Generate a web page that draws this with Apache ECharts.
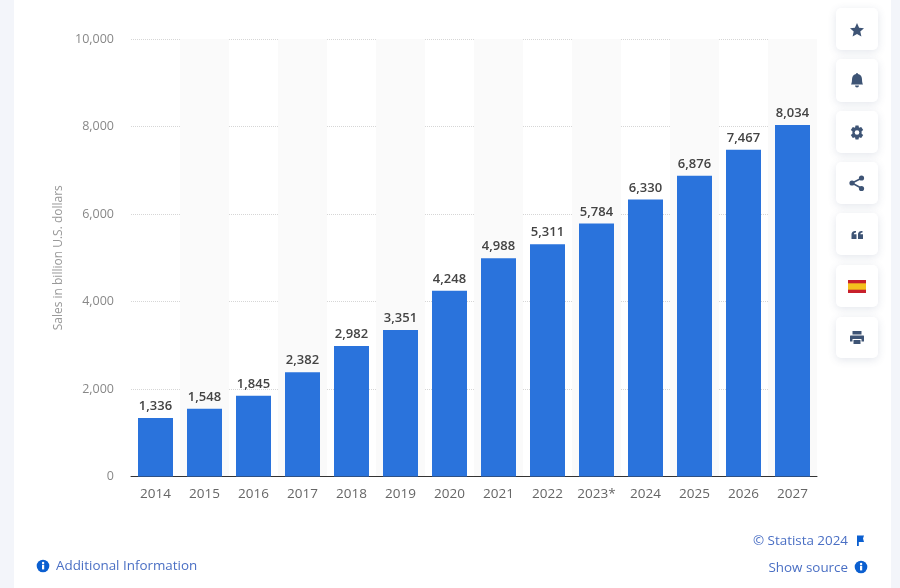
<!DOCTYPE html>
<html>
<head>
<meta charset="utf-8">
<style>
  html, body { margin: 0; padding: 0; background: #f3f5fa; }
  #main { width: 900px; height: 588px; }
</style>
</head>
<body>
<div id="main"></div>
<script src="https://cdn.jsdelivr.net/npm/echarts@6/dist/echarts.min.js"></script>
<script>
var years = ['2014', '2015', '2016', '2017', '2018', '2019', '2020', '2021', '2022', '2023*', '2024', '2025', '2026', '2027'];
var sales = [1336, 1548, 1845, 2382, 2982, 3351, 4248, 4988, 5311, 5784, 6330, 6876, 7467, 8034];
var yTicks = { min: 0, max: 10000, interval: 2000 };
var axisTitle = 'Sales in billion U.S. dollars';

var font = '"Open Sans", sans-serif';
var iconColor = '#3e5475';
var linkColor = '#4a6fc4';
var infoBlue = '#0b5fd0';

var chart = echarts.init(document.getElementById('main'), null, { renderer: 'canvas' });

function button(y, h) {
    return {
        type: 'rect',
        shape: { x: 836, y: y, width: 42, height: h, r: 5 },
        style: { fill: '#fff', shadowBlur: 8, shadowColor: 'rgba(60,80,120,0.14)', shadowOffsetY: 2 },
        z: 2
    };
}

// graphic has no plain path type, so each glyph is registered as a shape
var iconCount = 0;
function icon(x, y, pathData, color) {
    var name = 'icon' + (iconCount++);
    echarts.graphic.registerShape(name, echarts.graphic.extendPath(pathData, {}));
    return { type: name, x: x, y: y, style: { fill: color || iconColor }, z: 3 };
}

function infoIcon(cx, cy) {
    return [
        { type: 'circle', shape: { cx: cx, cy: cy, r: 6.3 }, style: { fill: infoBlue }, z: 3 },
        { type: 'rect', shape: { x: cx - 1, y: cy - 1.2, width: 2.2, height: 4.6 }, style: { fill: '#fff' }, z: 4 },
        { type: 'circle', shape: { cx: cx + 0.1, cy: cy - 3, r: 1.2 }, style: { fill: '#fff' }, z: 4 }
    ];
}

var graphics = [
    { type: 'rect', shape: { x: 14, y: 0, width: 877, height: 588 }, style: { fill: '#fff' }, z: -10, silent: true },
    button(8, 42), button(59, 43), button(111, 42), button(162, 42), button(213, 42), button(265, 42), button(317, 41),
    // star
    icon(857, 30, 'M0-7 L2.1-2.3 L7-1.8 L3.3 1.6 L4.4 6.6 L0 4 L-4.4 6.6 L-3.3 1.6 L-7-1.8 L-2.1-2.3 Z'),
    // bell
    icon(857, 80.5, 'M-1-6.5 A1 1 0 0 1 1-6.5 C4-6 5-3.5 5-1 C5 1.5 5.5 3 6 4 L-6 4 C-5.5 3 -5 1.5 -5-1 C-5-3.5 -4-6 -1-6.5 Z M-2 5 L2 5 A2 2 0 0 1 -2 5 Z'),
    // settings
    icon(857, 132.5, 'M-1.5-7 L1.5-7 L2-4.8 L4.2-5.6 L6.2-2.6 L4.6-1.2 L4.6 1.2 L6.2 2.6 L4.2 5.6 L2 4.8 L1.5 7 L-1.5 7 L-2 4.8 L-4.2 5.6 L-6.2 2.6 L-4.6 1.2 L-4.6-1.2 L-6.2-2.6 L-4.2-5.6 L-2-4.8 Z'),
    { type: 'circle', shape: { cx: 857, cy: 132.5, r: 2.3 }, style: { fill: '#fff' }, z: 4 },
    // share
    { type: 'polyline', shape: { points: [[862, 178], [852, 183], [862, 188.5]] }, style: { fill: 'none', stroke: iconColor, lineWidth: 1.6 }, z: 3 },
    { type: 'circle', shape: { cx: 861.5, cy: 178, r: 2.6 }, style: { fill: iconColor }, z: 3 },
    { type: 'circle', shape: { cx: 852, cy: 183, r: 2.6 }, style: { fill: iconColor }, z: 3 },
    { type: 'circle', shape: { cx: 861.5, cy: 188.5, r: 2.6 }, style: { fill: iconColor }, z: 3 },
    // quote
    icon(851.5, 231, 'M0 4 C0 1.5 1 0 4.5 0 L4.5 1.4 C3 1.6 2.4 2.2 2.3 3.2 L5 3.2 L5 8 L0 8 Z M6.5 4 C6.5 1.5 7.5 0 11 0 L11 1.4 C9.5 1.6 8.9 2.2 8.8 3.2 L11.5 3.2 L11.5 8 L6.5 8 Z'),
    // flag
    { type: 'rect', shape: { x: 848, y: 280, width: 18, height: 13 }, style: { fill: '#c8202b' }, z: 3 },
    { type: 'rect', shape: { x: 848, y: 283.3, width: 18, height: 6.4 }, style: { fill: '#f4c01e' }, z: 4 },
    // print
    icon(857, 337.5, 'M-4.5-6.5 L4.5-6.5 L4.5-3 L-4.5-3 Z M-6.5-2 L6.5-2 Q7-2 7-1 L7 4 L4.5 4 L4.5 1.5 L-4.5 1.5 L-4.5 4 L-7 4 L-7-1 Q-7-2 -6.5-2 Z M-3.5 2.5 L3.5 2.5 L3.5 6.5 L-3.5 6.5 Z'),
    // footer links
    { type: 'text', x: 56, y: 566.5, style: { text: 'Additional Information', fill: linkColor, font: '13.4px ' + font, textVerticalAlign: 'middle' }, z: 3 },
    { type: 'text', x: 848, y: 541.5, style: { text: '© Statista 2024', fill: linkColor, font: '13.4px ' + font, textAlign: 'right', textVerticalAlign: 'middle' }, z: 3 },
    { type: 'text', x: 848, y: 568, style: { text: 'Show source', fill: linkColor, font: '13.4px ' + font, textAlign: 'right', textVerticalAlign: 'middle' }, z: 3 },
    icon(857, 535.5, 'M0 0 L7 0 L6 3 L7 6.5 L1.8 6.5 L1.8 10.5 L0 10.5 Z', infoBlue)
].concat(infoIcon(43, 566), infoIcon(861, 567));

var option = {
    animation: false,
    backgroundColor: 'transparent',
    textStyle: { fontFamily: font },
    grid: { left: 131, right: 83, top: 39, bottom: 111.5, containLabel: false },
    xAxis: {
        type: 'category',
        data: years,
        axisLine: { lineStyle: { color: '#333', width: 1 } },
        axisTick: { show: false },
        axisLabel: { color: '#666', fontSize: 13.5, fontFamily: font, margin: 11, interval: 0 },
        splitArea: { show: true, interval: 0, areaStyle: { color: ['rgba(255,255,255,0)', '#fafafa'] } }
    },
    yAxis: {
        type: 'value',
        min: yTicks.min,
        max: yTicks.max,
        interval: yTicks.interval,
        name: axisTitle,
        nameLocation: 'middle',
        nameGap: 66,
        nameTextStyle: { color: '#999', fontSize: 12, fontFamily: font },
        axisLine: { show: false },
        axisTick: { show: false },
        axisLabel: {
            color: '#888',
            fontSize: 12.5,
            fontFamily: font,
            margin: 17,
            formatter: function (v) { return v.toLocaleString('en-US'); }
        },
        splitLine: { lineStyle: { color: '#d6d6d6', type: 'dotted', width: 1 } }
    },
    series: [{
        type: 'bar',
        data: sales,
        barWidth: 35,
        itemStyle: { color: '#2a73dc' },
        label: {
            show: true,
            position: 'top',
            distance: 5,
            color: '#444',
            fontSize: 13,
            fontWeight: 600,
            fontFamily: font,
            formatter: function (p) { return p.value.toLocaleString('en-US'); }
        }
    }],
    graphic: graphics
};

chart.setOption(option);
</script>
</body>
</html>
